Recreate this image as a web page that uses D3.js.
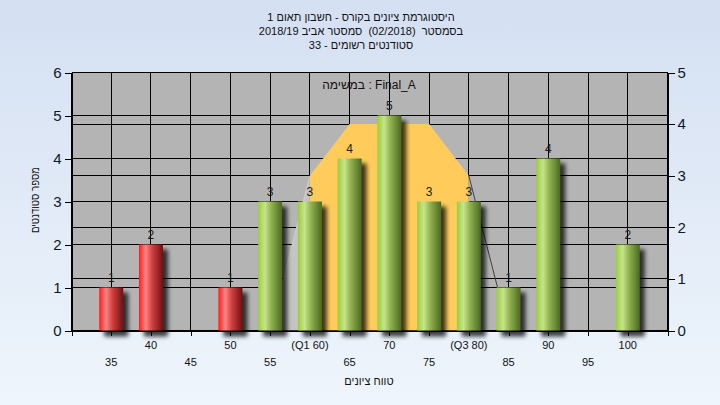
<!DOCTYPE html>
<html><head><meta charset="utf-8">
<script src="https://cdn.jsdelivr.net/npm/d3@7"></script>
<style>
html,body{margin:0;padding:0;}
svg{display:block;font-family:"Liberation Sans",Arial,sans-serif;}
text{white-space:pre;}
</style></head>
<body><svg id="c" width="720" height="405"></svg>
<script>
const titleLines = ["היסטוגרמת ציונים בקורס - חשבון תאום 1", "בסמסטר  (02/2018)  סמסטר אביב 2018/19", "סטודנטים רשומים - 33"];
const legendText = "במשימה : Final_A";
const xTitle = "טווח ציונים";
const yTitle = "מספר סטודנטים";
const categories = [35,40,45,50,55,60,65,70,75,80,85,90,95,100];
const counts = [1,2,0,1,3,3,4,5,3,3,1,4,0,2];
const tickLabels = ["35","40","45","50","55","(Q1 60)","65","70","75","(Q3 80)","85","90","95","100"];
const passMark = 55;
const q1 = 60, q3 = 80;
const curveX = [55,60,65,70,75,80,85];
const curveY = [0,3,4,4,4,3,0];
const leftTicks = [0,1,2,3,4,5,6];
const rightTicks = [0,1,2,3,4,5];

const svg = d3.select("#c");
const L=71.5, R=667.5, T=72.5, B=330.5;
const x = d3.scaleLinear().domain([30,105]).range([L,R]);
const yL = d3.scaleLinear().domain([0,6]).range([B,T]);
const yR = d3.scaleLinear().domain([0,5]).range([B,T]);

const defs = svg.append("defs");
const bg = defs.append("linearGradient").attr("id","bg").attr("x1",0).attr("y1",0).attr("x2",0).attr("y2",1);
bg.append("stop").attr("offset","0%").attr("stop-color","#d4e0f2");
bg.append("stop").attr("offset","100%").attr("stop-color","#eef5fc");
function cyl(id, stops){
  const g = defs.append("linearGradient").attr("id",id).attr("x1",0).attr("y1",0).attr("x2",1).attr("y2",0);
  stops.forEach(s=>g.append("stop").attr("offset",s[0]).attr("stop-color",s[1]));
}
cyl("red",[["0%","#ff1c1c"],["28%","#ff8484"],["55%","#d04040"],["100%","#701010"]]);
cyl("green",[["0%","#9ccc3c"],["28%","#c6e48c"],["55%","#90b050"],["100%","#4a6a20"]]);
const f = defs.append("filter").attr("id","sh").attr("x","-50%").attr("y","-20%").attr("width","200%").attr("height","140%");
f.append("feGaussianBlur").attr("stdDeviation",2);
defs.append("clipPath").attr("id","cq").append("rect").attr("x",x(q1)).attr("y",T).attr("width",x(q3)-x(q1)).attr("height",B-T);
defs.append("clipPath").attr("id","cl").append("rect").attr("x",L).attr("y",T).attr("width",x(q1)-L).attr("height",B-T);

svg.append("rect").attr("width",720).attr("height",405).attr("fill","url(#bg)");

// title
svg.append("g").selectAll("text").data(titleLines).join("text")
  .attr("x",361).attr("y",(d,i)=>21+i*14).attr("text-anchor","middle").attr("direction","rtl")
  .attr("font-size",11).attr("fill","#111").text(d=>d);

// plot area
svg.append("rect").attr("x",L).attr("y",T).attr("width",R-L).attr("height",B-T).attr("fill","#b4b4b4");

const grid = svg.append("g").attr("stroke","#000").attr("stroke-width",1).attr("shape-rendering","crispEdges");
grid.selectAll(".hl").data(leftTicks).join("line").attr("x1",L).attr("x2",R).attr("y1",d=>yL(d)).attr("y2",d=>yL(d));
grid.selectAll(".hr").data(rightTicks).join("line").attr("x1",L).attr("x2",R).attr("y1",d=>yR(d)).attr("y2",d=>yR(d));
const vt = d3.range(30,106,5);
grid.selectAll(".v").data(vt).join("line").attr("x1",d=>x(d)).attr("x2",d=>x(d)).attr("y1",T).attr("y2",B);

// distribution curve
const pts = curveX.map((d,i)=>[d,curveY[i]]);
const area = d3.area().x(d=>x(d[0])).y0(yR(0)).y1(d=>yR(d[1]));
svg.append("path").datum(pts).attr("d",area).attr("fill","#c4c4c4").attr("clip-path","url(#cl)");
svg.append("path").datum(pts.filter(d=>d[0]<=q1)).attr("d",d3.line().x(d=>x(d[0])).y(d=>yR(d[1]))).attr("fill","none").attr("stroke","#cfcfcf").attr("stroke-width",1);
svg.append("path").datum(pts).attr("d",area).attr("fill","#ffcc5c").attr("clip-path","url(#cq)");
svg.append("path").datum(pts.filter(d=>d[0]>=q3)).attr("d",d3.line().x(d=>x(d[0])).y(d=>yR(d[1]))).attr("fill","none").attr("stroke","#404040").attr("stroke-width",1);

// axes
const fmt = d3.format("d");
const axL = svg.append("g").attr("transform",`translate(${L},0)`).call(d3.axisLeft(yL).tickValues(leftTicks).tickFormat(fmt).tickSize(7).tickSizeOuter(0).tickPadding(3));
const axR = svg.append("g").attr("transform",`translate(${R},0)`).call(d3.axisRight(yR).tickValues(rightTicks).tickFormat(fmt).tickSize(7).tickSizeOuter(0).tickPadding(3));
const axB = svg.append("g").attr("transform",`translate(0,${B})`).call(d3.axisBottom(x).tickValues(vt).tickSize(5).tickSizeOuter(0).tickFormat(""));
[axL,axR].forEach(a=>{a.selectAll("text").attr("font-size",15).attr("fill","#101828").attr("font-family","Liberation Sans, Arial, sans-serif");});
[axL,axR,axB].forEach(a=>{a.selectAll("line,path").attr("stroke","#000").attr("shape-rendering","crispEdges");});

// bars
const bw = 24;
const data = categories.map((c,i)=>({c, v:counts[i], lab:tickLabels[i]}));
const bars = svg.append("g");
bars.selectAll(".s").data(data.filter(d=>d.v>0)).join("rect")
  .attr("x",d=>x(d.c)-bw/2+5).attr("y",d=>yL(d.v)+5).attr("width",bw).attr("height",d=>B-yL(d.v)+1)
  .attr("fill","#000").attr("opacity",0.75).attr("filter","url(#sh)");
bars.selectAll(".b").data(data.filter(d=>d.v>0)).join("rect")
  .attr("x",d=>x(d.c)-bw/2).attr("y",d=>yL(d.v)).attr("width",bw).attr("height",d=>B-yL(d.v))
  .attr("fill",d=>d.c<passMark?"url(#red)":"url(#green)");
bars.selectAll("text").data(data.filter(d=>d.v>0)).join("text")
  .attr("x",d=>x(d.c)).attr("y",d=>yL(d.v)-6).attr("text-anchor","middle")
  .attr("font-size",12).attr("fill","#1a1a1a").text(d=>d.v);

// bottom labels (alternating rows)
svg.append("g").selectAll("text").data(data).join("text")
  .attr("x",d=>x(d.c)).attr("y",(d,i)=> i%2===1 ? 349 : 366).attr("text-anchor","middle")
  .attr("font-size",11).attr("fill","#111").text(d=>d.lab);

// legend
svg.append("text").attr("x",369).attr("y",89).attr("text-anchor","middle").attr("font-size",12).attr("fill","#111").text(legendText);

// axis titles
svg.append("text").attr("x",369).attr("y",385).attr("text-anchor","middle").attr("direction","rtl").attr("font-size",11).attr("fill","#111").text(xTitle);
svg.append("text").attr("transform","translate(39,200) rotate(-90)").attr("text-anchor","middle").attr("direction","rtl").attr("font-size",11)
  .attr("textLength",66).attr("lengthAdjust","spacingAndGlyphs").attr("fill","#111").text(yTitle);
</script></body></html>
